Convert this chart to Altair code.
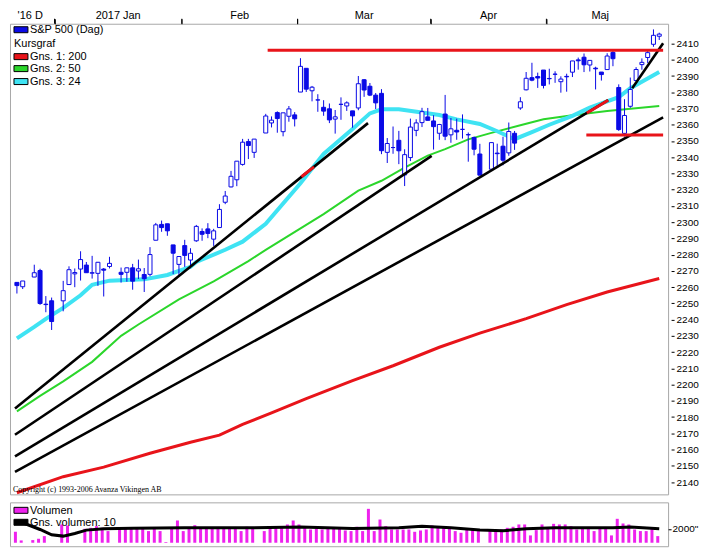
import numpy as np
import pandas as pd
import altair as alt

# ---------------- data ----------------
first_day = "2016-12-22"
last_day = "2017-05-26"
holidays = ["2016-12-26", "2017-01-02", "2017-01-16", "2017-02-20", "2017-04-14"]

open_ = [2262.93, 2260.25, 2266.23, 2270.23, 2249.50, 2251.61,
         2251.57, 2261.60, 2268.18, 2271.14, 2273.59, 2268.60, 2268.50, 2271.14, 2272.74, 2269.14,
         2269.14, 2271.90, 2269.96, 2267.78, 2267.88, 2288.88, 2298.63, 2299.02, 2286.01, 2274.02,
         2285.59, 2276.69, 2288.54, 2294.28, 2295.87, 2289.55, 2296.70, 2312.27, 2321.72, 2326.12,
         2335.58, 2349.64, 2343.01, 2354.91, 2361.11, 2367.50, 2355.73, 2365.23, 2366.08,
         2380.13, 2394.75, 2380.92, 2375.23, 2370.74, 2369.81, 2363.49, 2372.52, 2371.56, 2368.55,
         2370.34, 2387.71, 2383.71, 2378.24, 2379.32, 2343.00, 2345.97, 2350.42, 2329.11, 2339.79,
         2356.54, 2361.31, 2364.82,
         2362.34, 2354.76, 2366.59, 2353.79, 2356.59, 2357.16, 2353.92, 2352.15, 2341.98, 2332.62,
         2342.53, 2346.79, 2342.69, 2354.74, 2370.33, 2381.51, 2388.98, 2389.70, 2393.68,
         2388.50, 2391.05, 2386.50, 2389.79, 2392.37, 2399.94, 2401.58, 2396.79, 2394.84, 2392.44,
         2393.98, 2404.55, 2382.95, 2354.69, 2371.37, 2387.21, 2397.04, 2401.41, 2409.54, 2414.50]
high = [2263.18, 2263.79, 2273.82, 2271.31, 2254.51, 2253.58,
        2263.88, 2272.82, 2271.50, 2282.10, 2275.49, 2279.27, 2275.49, 2271.78, 2278.68, 2272.08,
        2272.01, 2274.33, 2276.96, 2271.78, 2284.63, 2299.55, 2300.99, 2299.02, 2286.01, 2279.09,
        2289.14, 2283.97, 2298.31, 2296.18, 2299.40, 2295.91, 2311.08, 2319.23, 2331.58, 2337.58,
        2351.30, 2351.31, 2351.16, 2366.71, 2365.13, 2368.26, 2367.34, 2371.54, 2367.79,
        2400.98, 2394.75, 2383.89, 2378.80, 2375.12, 2373.09, 2369.08, 2376.86, 2374.42, 2368.55,
        2390.01, 2388.10, 2385.71, 2379.55, 2381.93, 2351.81, 2358.92, 2356.22, 2344.90, 2363.78,
        2363.36, 2370.42, 2370.35,
        2365.87, 2360.53, 2378.36, 2364.16, 2363.76, 2366.37, 2355.22, 2352.72, 2348.26, 2349.14,
        2348.35, 2352.63, 2361.37, 2356.18, 2376.98, 2392.48, 2398.16, 2392.10, 2393.68,
        2394.49, 2392.93, 2389.82, 2391.43, 2399.29, 2401.36, 2403.87, 2399.74, 2395.72, 2392.44,
        2404.05, 2405.77, 2384.87, 2375.74, 2389.06, 2395.46, 2400.85, 2405.58, 2418.71, 2416.68]
low = [2256.08, 2258.84, 2266.15, 2249.11, 2244.56, 2233.62,
       2245.13, 2261.60, 2259.98, 2264.06, 2268.90, 2265.27, 2260.83, 2254.25, 2271.51, 2262.81,
       2263.35, 2258.41, 2265.01, 2257.02, 2266.68, 2288.88, 2294.08, 2291.62, 2268.04, 2267.21,
       2272.44, 2271.65, 2287.88, 2288.57, 2290.16, 2285.38, 2296.61, 2311.10, 2321.42, 2322.17,
       2334.81, 2338.87, 2339.58, 2354.91, 2358.34, 2355.09, 2352.87, 2361.87, 2358.96,
       2380.13, 2380.17, 2374.42, 2367.98, 2365.51, 2361.01, 2354.54, 2363.04, 2368.52, 2358.18,
       2368.94, 2377.18, 2377.64, 2369.66, 2341.90, 2336.45, 2342.13, 2335.74, 2322.25, 2337.63,
       2352.94, 2358.58, 2362.60,
       2344.73, 2350.72, 2350.52, 2348.90, 2350.74, 2351.50, 2337.25, 2341.18, 2328.95, 2332.51,
       2334.54, 2335.05, 2340.91, 2344.51, 2369.19, 2381.15, 2386.78, 2382.68, 2382.36,
       2384.83, 2385.82, 2379.75, 2380.35, 2389.38, 2393.92, 2392.44, 2392.79, 2381.74, 2387.19,
       2393.94, 2396.05, 2356.21, 2352.72, 2370.43, 2386.92, 2393.88, 2397.99, 2408.01, 2412.20]
close = [2260.96, 2263.79, 2268.88, 2249.92, 2249.26, 2238.83,
         2257.83, 2270.75, 2269.00, 2276.98, 2268.90, 2268.90, 2275.32, 2270.44, 2274.64, 2267.89,
         2271.89, 2263.69, 2271.31, 2265.20, 2280.07, 2298.37, 2296.68, 2294.69, 2280.90, 2278.87,
         2279.55, 2280.85, 2297.42, 2292.56, 2293.08, 2294.67, 2307.87, 2316.10, 2328.25, 2337.58,
         2349.25, 2347.22, 2351.16, 2365.38, 2362.82, 2363.81, 2367.34, 2369.75, 2363.64,
         2395.96, 2381.92, 2383.12, 2375.31, 2368.39, 2362.98, 2364.87, 2372.60, 2373.47, 2365.45,
         2385.26, 2381.38, 2378.25, 2373.47, 2344.02, 2348.45, 2345.96, 2343.98, 2341.59, 2358.57,
         2361.13, 2368.06, 2362.72,
         2358.84, 2360.16, 2352.95, 2357.49, 2355.54, 2357.16, 2353.78, 2344.93, 2328.95, 2349.01,
         2342.19, 2338.17, 2355.84, 2348.69, 2374.15, 2388.61, 2387.45, 2388.77, 2384.20,
         2388.33, 2391.17, 2388.13, 2389.52, 2399.29, 2399.38, 2396.92, 2399.63, 2394.44, 2390.90,
         2402.32, 2400.67, 2357.03, 2365.72, 2381.73, 2394.02, 2398.42, 2404.39, 2415.07, 2415.82]
volume = [1570, 330, 380, 570, 950, None,
          2620, 2480, None, None, 2000, 2140, 2380, 2140, 1670, 2240, 2140, 2140, 2240, 2140,
          1670, 2000, 1670, 100, 2000, 3190,
          1670, 2000, 2520, 2140, 2240, 2240, 2240, 2000, 2140, 2140, 1670, 2290, 2000, 1670,
          2290, 2380, 2380, 2620, 3190,
          2620, 2380, 1900, 2000, 1900, 2000, 2140, 2000, 1760, 1670, 2290, 1670, 4860, 1670,
          3330, 2380, 1900, 1900, 1900, 1900, 1570, 1760, 1900,
          2480, 2140, 2380, 2000, 1670, 1430, 1900, 1900, 1670, 1900, 1900, 1900, 2140, 2290,
          2620, 2620, 1050, 1810, 2620,
          2140, 2710, 2620, 2620, 2380, 1900, 2000, 2000, 1670, 2140, 2000, 1050, 3430, 2760,
          2620, 1900, 1670, 1670, 2140, 950]

vol_avg_dates = ["2016-12-22", "2016-12-23", "2016-12-28", "2016-12-30", "2017-01-03", "2017-01-05",
                 "2017-01-09", "2017-01-12", "2017-01-19", "2017-02-01", "2017-02-15", "2017-03-01",
                 "2017-03-14", "2017-03-24", "2017-03-30", "2017-04-06", "2017-04-13", "2017-04-19",
                 "2017-04-25", "2017-05-02", "2017-05-16", "2017-05-19", "2017-05-26"]
vol_avg_values = [3050, 2860, 1900, 1140, 950, 1330, 1810, 2000, 2090, 2140, 2140, 2240,
                  2050, 2140, 2380, 2140, 1810, 1710, 2000, 2140, 2140, 2240, 2000]

ma200_dates = ["2016-12-22", "2017-01-03", "2017-01-12", "2017-01-24", "2017-02-02", "2017-02-09",
               "2017-02-15", "2017-02-22", "2017-03-02", "2017-03-14", "2017-03-23", "2017-04-04",
               "2017-04-13", "2017-04-25", "2017-05-04", "2017-05-15", "2017-05-26"]
ma200_values = [2133.4, 2143.3, 2149.2, 2157.7, 2164.5, 2168.9, 2175.5, 2182.6, 2191.4, 2202.4,
                2211.6, 2223.0, 2231.7, 2240.6, 2249.2, 2257.0, 2265.3]

ma50_dates = ["2016-12-22", "2016-12-28", "2017-01-03", "2017-01-10", "2017-01-17", "2017-01-20",
              "2017-01-31", "2017-02-08", "2017-02-16", "2017-02-21", "2017-03-07", "2017-03-15",
              "2017-03-21", "2017-03-27", "2017-03-31", "2017-04-05", "2017-04-11", "2017-04-17",
              "2017-04-24", "2017-04-28", "2017-05-05", "2017-05-15", "2017-05-26"]
ma50_values = [2183.5, 2193.0, 2202.0, 2214.0, 2230.0, 2237.0, 2252.5, 2263.5, 2276.0, 2283.0,
               2305.0, 2319.4, 2325.5, 2333.6, 2341.0, 2345.0, 2351.0, 2355.0, 2359.7, 2363.4,
               2365.8, 2368.5, 2371.5]

ma24_dates = ["2016-12-22", "2016-12-27", "2016-12-29", "2017-01-03", "2017-01-06", "2017-01-10",
              "2017-01-13", "2017-01-23", "2017-01-27", "2017-02-02", "2017-02-03", "2017-02-10",
              "2017-02-15", "2017-02-21", "2017-03-01", "2017-03-07", "2017-03-14", "2017-03-17",
              "2017-03-21", "2017-03-24", "2017-03-30", "2017-04-04", "2017-04-07", "2017-04-13",
              "2017-04-18", "2017-04-21", "2017-04-26", "2017-05-01", "2017-05-05", "2017-05-10",
              "2017-05-17", "2017-05-19", "2017-05-26"]
ma24_values = [2228.5, 2235.5, 2240.5, 2247.2, 2255.0, 2261.5, 2264.0, 2264.8, 2267.5, 2272.5,
               2275.5, 2283.0, 2288.0, 2299.0, 2324.0, 2342.0, 2357.4, 2367.0, 2369.5, 2369.5,
               2367.5, 2366.0, 2363.3, 2360.5, 2356.0, 2351.1, 2355.5, 2360.0, 2365.5, 2370.5,
               2377.0, 2382.5, 2392.5]

# drawn trend lines (slot = weekday number since first day, price)
trend_start_slot = [-0.33, -0.33, -0.33, -0.33, 106.33]
trend_start_price = [2185.3, 2169.1, 2155.8, 2146.2, 2382.5]
trend_end_slot = [60.67, 71.67, 102.17, 111.67, 111.67]
trend_end_price = [2361.0, 2340.8, 2375.1, 2364.5, 2410.2]

red_start_slot = [43.33, 98.4, 49.17, 98.5]
red_start_price = [2405.8, 2353.7, 2328.0, 2367.2]
red_end_slot = [111.67, 111.67, 51.33, 102.17]
red_end_price = [2405.8, 2353.7, 2334.1, 2375.1]

month_bounds = [6.5, 28.5, 48.5, 71.5, 91.5]
month_names = ["'16 D", "2017 Jan", "Feb", "Mar", "Apr", "Maj"]
month_label_slots = [2.3, 17.5, 38.5, 60.0, 81.5, 100.8]
price_ticks = list(range(2140, 2411, 10))
slot_range = [-1 / 3, 111 + 2 / 3]
price_range = [2132.4, 2422.2]
volume_range = [-500, 5790]

legend_labels = ["S&P 500 (Dag)", "Kursgraf", "Gns. 1: 200", "Gns. 2: 50", "Gns. 3: 24"]
vol_legend_labels = ["Volumen", "Gns. volumen: 10"]
copyright_text = "Copyright (c) 1993-2006 Avanza Vikingen AB"

# ---------------- styles ----------------
BLUE = "#0a0ae6"
RED = "#e8141a"
GREEN = "#2bd62b"
CYAN = "#3fe3f3"
MAGENTA = "#ee22ee"
FRAME = "#a8a8a8"
FONT = "Liberation Sans"
W, H1, H2 = 660, 472, 44

# ---------------- frames ----------------
days = [d for d in pd.bdate_range(first_day, last_day) if d.strftime("%Y-%m-%d") not in holidays]
assert len(days) == len(open_) == len(high) == len(low) == len(close) == len(volume)


def slot_of(dates):
    d = pd.to_datetime(pd.Series(dates)).values.astype("datetime64[D]")
    return np.busday_count(np.datetime64(first_day), d)


day_slots = slot_of(days)
price_df = pd.DataFrame({"slot": day_slots, "open": open_, "high": high, "low": low, "close": close})
vol_df = pd.DataFrame({"slot": day_slots, "volume": [np.nan if v is None else v for v in volume]})
vavg_df = pd.DataFrame({"slot": slot_of(vol_avg_dates), "v": vol_avg_values})

ma_frames = []
for name, dts, vals in [("ma200", ma200_dates, ma200_values), ("ma50", ma50_dates, ma50_values),
                        ("ma24", ma24_dates, ma24_values)]:
    ma_frames.append(pd.DataFrame({"slot": slot_of(dts), "price": vals, "series": name}))


def segments(s0, p0, s1, p1):
    rows = []
    for k in range(len(s0)):
        rows.append({"id": k, "slot": s0[k], "price": p0[k]})
        rows.append({"id": k, "slot": s1[k], "price": p1[k]})
    return pd.DataFrame(rows)


trend_df = segments(trend_start_slot, trend_start_price, trend_end_slot, trend_end_price)
red_df = segments(red_start_slot, red_start_price, red_end_slot, red_end_price)
months_df = pd.DataFrame({"name": month_names, "slot": month_label_slots})
bounds_df = pd.DataFrame({"slot": month_bounds})

xs = alt.Scale(domain=slot_range, nice=False, zero=False)
ys = alt.Scale(domain=price_range, nice=False, zero=False)
vs = alt.Scale(domain=volume_range, nice=False, zero=False)

top_axis = alt.Axis(orient="top", values=month_bounds, labels=False, domain=False, ticks=True,
                    tickSize=5, tickColor="black", grid=False, title=None)
price_axis = alt.Axis(orient="right", values=price_ticks, format="d", tickSize=3, offset=3,
                      labelPadding=2, domain=False, grid=False, title=None, labelFont=FONT,
                      labelFontSize=10, labelColor="black", tickColor="black")
vol_axis = alt.Axis(orient="right", values=[2000], labelExpr="'2000\"'", tickSize=3, labelPadding=1,
                    domain=False, grid=False, title=None, labelFont=FONT, labelFontSize=10,
                    labelColor="black", tickColor="black")
vol_x_axis = alt.Axis(orient="bottom", labels=False, ticks=False, domain=False, grid=False, title=None)


def PX():
    return alt.X("slot:Q", scale=xs, axis=top_axis)


def PY(field):
    return alt.Y(field, scale=ys, axis=price_axis)


def VX():
    return alt.X("slot:Q", scale=xs, axis=vol_x_axis)


def VY(field):
    return alt.Y(field, scale=vs, axis=vol_axis)


def text_at(txt, x, y, size=11, font=FONT, baseline="middle"):
    return alt.Chart(pd.DataFrame({"t": [txt]})).mark_text(
        align="left", baseline=baseline, fontSize=size, font=font, color="black"
    ).encode(x=alt.value(x), y=alt.value(y), text="t:N")


def swatch(color, x, y, w=14, h=6):
    return alt.Chart(pd.DataFrame({"c": [color]})).mark_rect(
        fill=color, stroke="black", strokeWidth=1
    ).encode(x=alt.value(x), x2=alt.value(x + w), y=alt.value(y), y2=alt.value(y + h))


# ---------------- price panel ----------------
ma_style = {"ma200": (RED, 3), "ma50": (GREEN, 2), "ma24": (CYAN, 4)}
ma_layers = [
    alt.Chart(f).mark_line(color=ma_style[f["series"].iloc[0]][0],
                           strokeWidth=ma_style[f["series"].iloc[0]][1]).encode(
        x=PX(), y=PY("price:Q"))
    for f in ma_frames
]

wicks = alt.Chart(price_df).mark_rule(color=BLUE, strokeWidth=1).encode(
    x=PX(), y=PY("low:Q"), y2="high:Q")
bodies = alt.Chart(price_df).mark_bar(size=4, stroke=BLUE, strokeWidth=1).encode(
    x=PX(),
    y=PY("open:Q"),
    y2="close:Q",
    fill=alt.condition("datum.close >= datum.open", alt.value("white"), alt.value(BLUE)),
)
trends = alt.Chart(trend_df).mark_line(color="black", strokeWidth=2.6).encode(
    x=PX(), y=PY("price:Q"), detail="id:N")
reds = alt.Chart(red_df).mark_line(color=RED, strokeWidth=3).encode(
    x=PX(), y=PY("price:Q"), detail="id:N")
months = alt.Chart(months_df).mark_text(
    align="center", baseline="alphabetic", fontSize=11, font=FONT, color="black"
).encode(x=PX(), y=alt.value(-5), text="name:N")
month_ticks = alt.Chart(bounds_df).mark_rule(color="black", strokeWidth=1).encode(
    x=PX(), y=alt.value(-5), y2=alt.value(0))

legend_layers = [
    swatch(BLUE, 4, 3), text_at(legend_labels[0], 20, 6),
    text_at(legend_labels[1], 4, 20),
    swatch(RED, 4, 30), text_at(legend_labels[2], 20, 33),
    swatch(GREEN, 4, 42), text_at(legend_labels[3], 20, 45),
    swatch(CYAN, 4, 55), text_at(legend_labels[4], 20, 58),
    text_at(copyright_text, 3, H1 - 2, size=8, font="Liberation Serif", baseline="alphabetic"),
]

price = alt.layer(*ma_layers, wicks, bodies, trends, reds, months, month_ticks,
                  *legend_layers).properties(width=W, height=H1)

# ---------------- volume panel ----------------
vbars = alt.Chart(vol_df).mark_bar(size=3, color=MAGENTA, xOffset=-1.5).encode(
    x=VX(), y=VY("volume:Q"), y2=alt.datum(0))
vline = alt.Chart(vavg_df).mark_line(color="black", strokeWidth=3).encode(
    x=VX(), y=VY("v:Q"))
vol_legend = [
    swatch(MAGENTA, 4, 5), text_at(vol_legend_labels[0], 20, 8.5),
    swatch("black", 4, 17), text_at(vol_legend_labels[1], 20, 20.5),
]
vol = alt.layer(vbars, vline, *vol_legend).properties(width=W, height=H2)

chart = alt.vconcat(price, vol, spacing=2).properties(
    padding=0, background="white"
).configure_view(stroke=FRAME, strokeWidth=1)

chart.save("out.html", embed_options={"renderer": "svg", "actions": False})
